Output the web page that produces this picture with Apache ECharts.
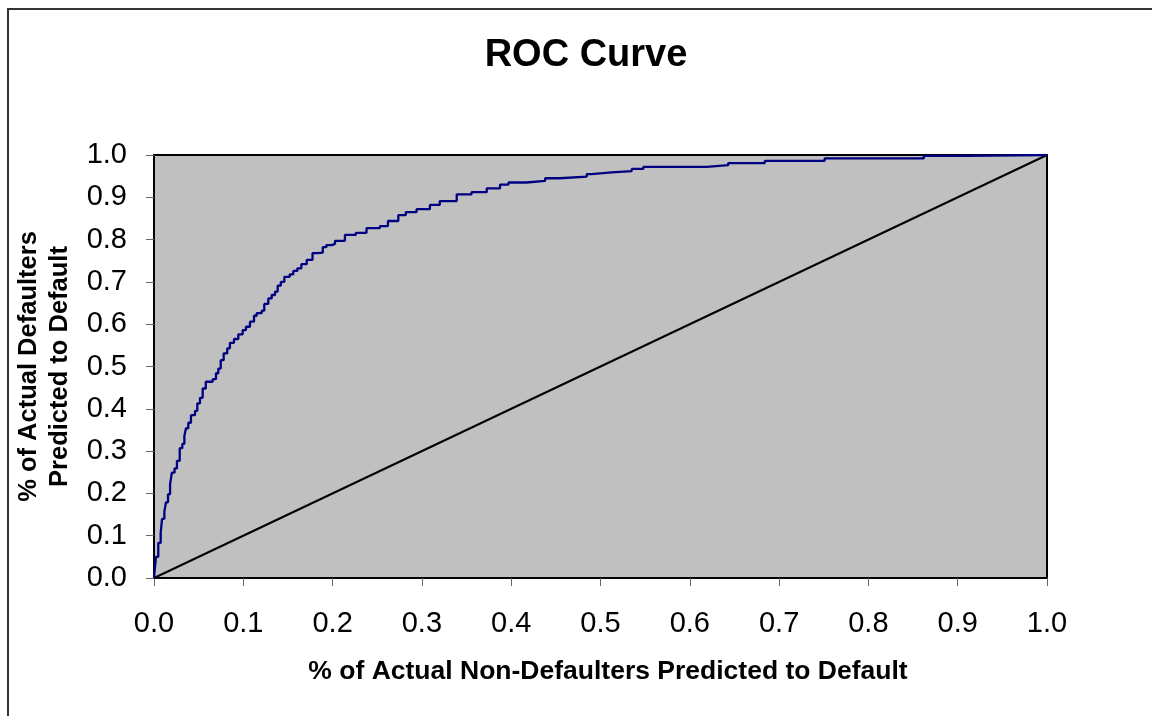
<!DOCTYPE html>
<html>
<head>
<meta charset="utf-8">
<script src="https://cdn.jsdelivr.net/npm/echarts@6/dist/echarts.min.js"></script>
<style>
html,body{margin:0;padding:0;background:#fff;}
#chart{width:1152px;height:716px;}
</style>
</head>
<body>
<div id="chart"></div>
<script>
// False positive rate (x) and true positive rate (y)
var fpr = [0, 0.0022, 0.0048, 0.0075, 0.009, 0.0116, 0.0134, 0.0157, 0.018, 0.020, 0.023, 0.0257, 0.0288, 0.0317, 0.034, 0.0358, 0.0384, 0.0414, 0.0459, 0.0485, 0.0515, 0.0545, 0.058, 0.0657, 0.0694, 0.072, 0.0747, 0.078, 0.082, 0.085, 0.0896, 0.0944, 0.0993, 0.103, 0.1075, 0.112, 0.115, 0.1206, 0.1235, 0.128, 0.1318, 0.1355, 0.1385, 0.142, 0.146, 0.152, 0.156, 0.1605, 0.165, 0.171, 0.1775, 0.183, 0.189, 0.193, 0.199, 0.2027, 0.2138, 0.226, 0.238, 0.253, 0.262, 0.2736, 0.282, 0.294, 0.309, 0.320, 0.339, 0.3556, 0.3726, 0.3875, 0.397, 0.417, 0.438, 0.4546, 0.4846, 0.49, 0.5126, 0.535, 0.548, 0.619, 0.643, 0.684, 0.751, 0.862, 0.91, 1.0];
var tpr = [0, 0.05, 0.083, 0.107, 0.14, 0.157, 0.179, 0.198, 0.2215, 0.249, 0.259, 0.277, 0.307, 0.317, 0.336, 0.354, 0.367, 0.385, 0.395, 0.413, 0.426, 0.448, 0.464, 0.470, 0.484, 0.495, 0.515, 0.531, 0.543, 0.556, 0.565, 0.576, 0.586, 0.594, 0.606, 0.620, 0.626, 0.632, 0.648, 0.661, 0.669, 0.677, 0.691, 0.700, 0.712, 0.718, 0.726, 0.732, 0.742, 0.752, 0.768, 0.769, 0.782, 0.787, 0.790, 0.797, 0.811, 0.816, 0.827, 0.832, 0.844, 0.858, 0.865, 0.872, 0.882, 0.891, 0.907, 0.912, 0.921, 0.930, 0.935, 0.939, 0.945, 0.949, 0.955, 0.959, 0.962, 0.967, 0.972, 0.976, 0.981, 0.986, 0.992, 0.998, 1.0, 1.0];
// Reference (random classifier) diagonal
var diagX = [0, 1];
var diagY = [0, 1];

var titleText = 'ROC Curve';
var xTitle = '% of Actual Non-Defaulters Predicted to Default';
var yTitle = '% of Actual Defaulters\nPredicted to Default';

var rocData = fpr.map(function (x, i) { return [x, tpr[i]]; });
var diagData = diagX.map(function (x, i) { return [x, diagY[i]]; });

var FONT = '"Liberation Sans", Arial, sans-serif';
var chart = echarts.init(document.getElementById('chart'), null, {renderer: 'canvas'});
chart.setOption({
  animation: false,
  backgroundColor: '#ffffff',
  title: {
    text: titleText,
    left: 581,
    top: 32,
    textAlign: 'center',
    textStyle: {fontFamily: FONT, fontWeight: 'bold', fontSize: 38, color: '#000'}
  },
  graphic: [{
    type: 'rect',
    shape: {x: 8, y: 9, width: 1300, height: 900},
    style: {fill: 'none', stroke: '#333', lineWidth: 2},
    silent: true
  }],
  grid: {
    left: 154, right: 105, top: 155, bottom: 138,
    show: true, backgroundColor: '#C0C0C0', borderColor: '#000', borderWidth: 2
  },
  xAxis: {
    type: 'value', min: 0, max: 1, interval: 0.1,
    name: xTitle, nameLocation: 'middle', nameGap: 80,
    nameTextStyle: {fontFamily: FONT, fontWeight: 'bold', fontSize: 26.5, color: '#000', padding: [0, 0, 0, 15]},
    axisLine: {show: true, lineStyle: {color: '#000', width: 2}},
    axisTick: {show: true, inside: false, length: 8, lineStyle: {color: '#666', width: 1}},
    axisLabel: {margin: 31, fontFamily: FONT, fontSize: 29, color: '#000',
      formatter: function (v) { return v.toFixed(1); }},
    splitLine: {show: false}
  },
  yAxis: {
    type: 'value', min: 0, max: 1, interval: 0.1,
    name: yTitle, nameLocation: 'middle', nameGap: 73, nameRotate: 90,
    nameTextStyle: {fontFamily: FONT, fontWeight: 'bold', fontSize: 25.5, lineHeight: 31, color: '#000', align: 'center'},
    axisLine: {show: true, lineStyle: {color: '#000', width: 2}},
    axisTick: {show: true, inside: false, length: 8, lineStyle: {color: '#666', width: 1}},
    axisLabel: {margin: 27, fontFamily: FONT, fontSize: 29, color: '#000',
      formatter: function (v) { return v.toFixed(1); }},
    splitLine: {show: false}
  },
  series: [{
    type: 'line', name: 'ROC', data: rocData, step: 'end',
    showSymbol: false, symbol: 'none',
    lineStyle: {color: '#000080', width: 2.3}, z: 3
  }, {
    type: 'line', name: 'Diagonal', data: diagData,
    showSymbol: false, symbol: 'none',
    lineStyle: {color: '#000', width: 2}, z: 2
  }]
});
</script>
</body>
</html>
